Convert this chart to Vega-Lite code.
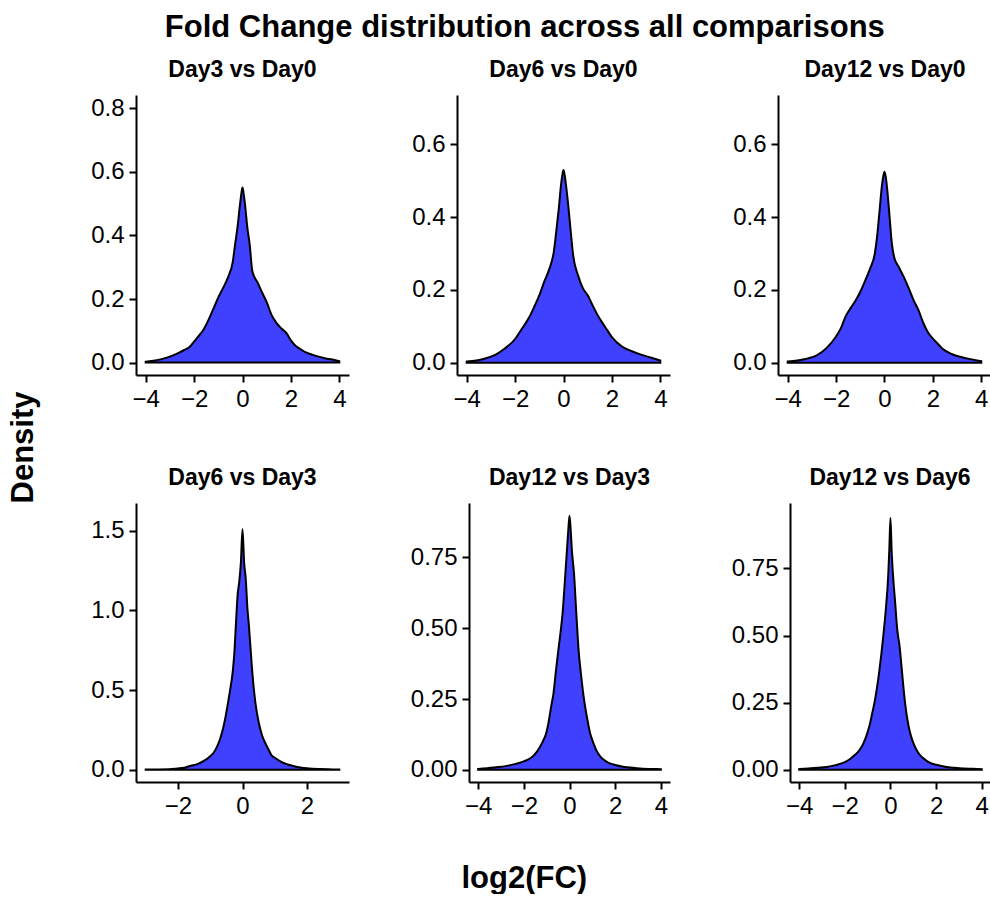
{
  "$schema": "https://vega.github.io/schema/vega-lite/v6.json",
  "background": "white",
  "padding": {"left": 7, "top": 12, "right": 0, "bottom": 0},
  "title": {"text": "Fold Change distribution across all comparisons", "font": "Liberation Sans", "fontSize": 31, "fontWeight": "bold", "color": "black", "anchor": "middle", "offset": 15, "dx": 26},
  "datasets": {
    "d": [
      {"c": "Day3 vs Day0", "x": -4.0, "y": 0.003}, {"c": "Day3 vs Day0", "x": -3.6, "y": 0.007}, {"c": "Day3 vs Day0", "x": -3.2, "y": 0.014}, {"c": "Day3 vs Day0", "x": -2.8, "y": 0.025}, {"c": "Day3 vs Day0", "x": -2.6, "y": 0.032}, {"c": "Day3 vs Day0", "x": -2.4, "y": 0.040}, {"c": "Day3 vs Day0", "x": -2.2, "y": 0.048}, {"c": "Day3 vs Day0", "x": -2.0, "y": 0.066}, {"c": "Day3 vs Day0", "x": -1.8, "y": 0.085}, {"c": "Day3 vs Day0", "x": -1.6, "y": 0.105}, {"c": "Day3 vs Day0", "x": -1.4, "y": 0.135}, {"c": "Day3 vs Day0", "x": -1.2, "y": 0.170}, {"c": "Day3 vs Day0", "x": -1.0, "y": 0.205}, {"c": "Day3 vs Day0", "x": -0.8, "y": 0.235}, {"c": "Day3 vs Day0", "x": -0.6, "y": 0.268}, {"c": "Day3 vs Day0", "x": -0.4, "y": 0.318}, {"c": "Day3 vs Day0", "x": -0.3, "y": 0.375}, {"c": "Day3 vs Day0", "x": -0.2, "y": 0.43}, {"c": "Day3 vs Day0", "x": -0.1, "y": 0.50}, {"c": "Day3 vs Day0", "x": -0.05, "y": 0.53}, {"c": "Day3 vs Day0", "x": 0.0, "y": 0.551}, {"c": "Day3 vs Day0", "x": 0.05, "y": 0.53}, {"c": "Day3 vs Day0", "x": 0.1, "y": 0.50}, {"c": "Day3 vs Day0", "x": 0.2, "y": 0.425}, {"c": "Day3 vs Day0", "x": 0.3, "y": 0.37}, {"c": "Day3 vs Day0", "x": 0.4, "y": 0.29}, {"c": "Day3 vs Day0", "x": 0.5, "y": 0.268}, {"c": "Day3 vs Day0", "x": 0.6, "y": 0.255}, {"c": "Day3 vs Day0", "x": 0.8, "y": 0.222}, {"c": "Day3 vs Day0", "x": 1.0, "y": 0.19}, {"c": "Day3 vs Day0", "x": 1.2, "y": 0.15}, {"c": "Day3 vs Day0", "x": 1.4, "y": 0.125}, {"c": "Day3 vs Day0", "x": 1.6, "y": 0.108}, {"c": "Day3 vs Day0", "x": 1.8, "y": 0.094}, {"c": "Day3 vs Day0", "x": 2.0, "y": 0.07}, {"c": "Day3 vs Day0", "x": 2.2, "y": 0.052}, {"c": "Day3 vs Day0", "x": 2.4, "y": 0.042}, {"c": "Day3 vs Day0", "x": 2.6, "y": 0.033}, {"c": "Day3 vs Day0", "x": 2.8, "y": 0.027}, {"c": "Day3 vs Day0", "x": 3.0, "y": 0.022}, {"c": "Day3 vs Day0", "x": 3.4, "y": 0.014}, {"c": "Day3 vs Day0", "x": 3.8, "y": 0.008}, {"c": "Day3 vs Day0", "x": 4.0, "y": 0.004},

      {"c": "Day6 vs Day0", "x": -4.0, "y": 0.003}, {"c": "Day6 vs Day0", "x": -3.6, "y": 0.006}, {"c": "Day6 vs Day0", "x": -3.2, "y": 0.012}, {"c": "Day6 vs Day0", "x": -2.8, "y": 0.022}, {"c": "Day6 vs Day0", "x": -2.4, "y": 0.040}, {"c": "Day6 vs Day0", "x": -2.0, "y": 0.065}, {"c": "Day6 vs Day0", "x": -1.8, "y": 0.085}, {"c": "Day6 vs Day0", "x": -1.6, "y": 0.105}, {"c": "Day6 vs Day0", "x": -1.4, "y": 0.127}, {"c": "Day6 vs Day0", "x": -1.2, "y": 0.155}, {"c": "Day6 vs Day0", "x": -1.0, "y": 0.185}, {"c": "Day6 vs Day0", "x": -0.8, "y": 0.222}, {"c": "Day6 vs Day0", "x": -0.6, "y": 0.255}, {"c": "Day6 vs Day0", "x": -0.4, "y": 0.305}, {"c": "Day6 vs Day0", "x": -0.3, "y": 0.36}, {"c": "Day6 vs Day0", "x": -0.2, "y": 0.42}, {"c": "Day6 vs Day0", "x": -0.1, "y": 0.49}, {"c": "Day6 vs Day0", "x": -0.05, "y": 0.515}, {"c": "Day6 vs Day0", "x": 0.0, "y": 0.53}, {"c": "Day6 vs Day0", "x": 0.05, "y": 0.515}, {"c": "Day6 vs Day0", "x": 0.1, "y": 0.49}, {"c": "Day6 vs Day0", "x": 0.2, "y": 0.43}, {"c": "Day6 vs Day0", "x": 0.3, "y": 0.36}, {"c": "Day6 vs Day0", "x": 0.4, "y": 0.295}, {"c": "Day6 vs Day0", "x": 0.6, "y": 0.24}, {"c": "Day6 vs Day0", "x": 0.8, "y": 0.205}, {"c": "Day6 vs Day0", "x": 1.0, "y": 0.185}, {"c": "Day6 vs Day0", "x": 1.2, "y": 0.158}, {"c": "Day6 vs Day0", "x": 1.4, "y": 0.132}, {"c": "Day6 vs Day0", "x": 1.6, "y": 0.110}, {"c": "Day6 vs Day0", "x": 1.8, "y": 0.090}, {"c": "Day6 vs Day0", "x": 2.0, "y": 0.070}, {"c": "Day6 vs Day0", "x": 2.4, "y": 0.045}, {"c": "Day6 vs Day0", "x": 2.8, "y": 0.032}, {"c": "Day6 vs Day0", "x": 3.2, "y": 0.022}, {"c": "Day6 vs Day0", "x": 3.6, "y": 0.014}, {"c": "Day6 vs Day0", "x": 4.0, "y": 0.006},

      {"c": "Day12 vs Day0", "x": -4.0, "y": 0.003}, {"c": "Day12 vs Day0", "x": -3.6, "y": 0.006}, {"c": "Day12 vs Day0", "x": -3.2, "y": 0.011}, {"c": "Day12 vs Day0", "x": -2.8, "y": 0.020}, {"c": "Day12 vs Day0", "x": -2.4, "y": 0.040}, {"c": "Day12 vs Day0", "x": -2.0, "y": 0.072}, {"c": "Day12 vs Day0", "x": -1.8, "y": 0.095}, {"c": "Day12 vs Day0", "x": -1.6, "y": 0.128}, {"c": "Day12 vs Day0", "x": -1.4, "y": 0.150}, {"c": "Day12 vs Day0", "x": -1.2, "y": 0.170}, {"c": "Day12 vs Day0", "x": -1.0, "y": 0.195}, {"c": "Day12 vs Day0", "x": -0.8, "y": 0.225}, {"c": "Day12 vs Day0", "x": -0.6, "y": 0.258}, {"c": "Day12 vs Day0", "x": -0.4, "y": 0.300}, {"c": "Day12 vs Day0", "x": -0.3, "y": 0.35}, {"c": "Day12 vs Day0", "x": -0.2, "y": 0.42}, {"c": "Day12 vs Day0", "x": -0.1, "y": 0.49}, {"c": "Day12 vs Day0", "x": -0.05, "y": 0.512}, {"c": "Day12 vs Day0", "x": 0.0, "y": 0.525}, {"c": "Day12 vs Day0", "x": 0.05, "y": 0.512}, {"c": "Day12 vs Day0", "x": 0.1, "y": 0.485}, {"c": "Day12 vs Day0", "x": 0.2, "y": 0.41}, {"c": "Day12 vs Day0", "x": 0.3, "y": 0.33}, {"c": "Day12 vs Day0", "x": 0.4, "y": 0.29}, {"c": "Day12 vs Day0", "x": 0.6, "y": 0.262}, {"c": "Day12 vs Day0", "x": 0.8, "y": 0.235}, {"c": "Day12 vs Day0", "x": 1.0, "y": 0.205}, {"c": "Day12 vs Day0", "x": 1.2, "y": 0.172}, {"c": "Day12 vs Day0", "x": 1.4, "y": 0.145}, {"c": "Day12 vs Day0", "x": 1.6, "y": 0.110}, {"c": "Day12 vs Day0", "x": 1.8, "y": 0.083}, {"c": "Day12 vs Day0", "x": 2.0, "y": 0.066}, {"c": "Day12 vs Day0", "x": 2.2, "y": 0.052}, {"c": "Day12 vs Day0", "x": 2.4, "y": 0.038}, {"c": "Day12 vs Day0", "x": 2.8, "y": 0.023}, {"c": "Day12 vs Day0", "x": 3.2, "y": 0.015}, {"c": "Day12 vs Day0", "x": 3.6, "y": 0.009}, {"c": "Day12 vs Day0", "x": 4.0, "y": 0.004},

      {"c": "Day6 vs Day3", "x": -3.0, "y": 0.001}, {"c": "Day6 vs Day3", "x": -2.6, "y": 0.002}, {"c": "Day6 vs Day3", "x": -2.2, "y": 0.005}, {"c": "Day6 vs Day3", "x": -2.0, "y": 0.008}, {"c": "Day6 vs Day3", "x": -1.8, "y": 0.013}, {"c": "Day6 vs Day3", "x": -1.6, "y": 0.025}, {"c": "Day6 vs Day3", "x": -1.4, "y": 0.035}, {"c": "Day6 vs Day3", "x": -1.2, "y": 0.055}, {"c": "Day6 vs Day3", "x": -1.0, "y": 0.085}, {"c": "Day6 vs Day3", "x": -0.9, "y": 0.105}, {"c": "Day6 vs Day3", "x": -0.8, "y": 0.14}, {"c": "Day6 vs Day3", "x": -0.7, "y": 0.19}, {"c": "Day6 vs Day3", "x": -0.6, "y": 0.26}, {"c": "Day6 vs Day3", "x": -0.5, "y": 0.36}, {"c": "Day6 vs Day3", "x": -0.4, "y": 0.48}, {"c": "Day6 vs Day3", "x": -0.3, "y": 0.62}, {"c": "Day6 vs Day3", "x": -0.25, "y": 0.74}, {"c": "Day6 vs Day3", "x": -0.2, "y": 0.93}, {"c": "Day6 vs Day3", "x": -0.15, "y": 1.10}, {"c": "Day6 vs Day3", "x": -0.1, "y": 1.18}, {"c": "Day6 vs Day3", "x": -0.05, "y": 1.30}, {"c": "Day6 vs Day3", "x": 0.0, "y": 1.51}, {"c": "Day6 vs Day3", "x": 0.05, "y": 1.30}, {"c": "Day6 vs Day3", "x": 0.1, "y": 1.20}, {"c": "Day6 vs Day3", "x": 0.15, "y": 1.02}, {"c": "Day6 vs Day3", "x": 0.2, "y": 0.90}, {"c": "Day6 vs Day3", "x": 0.25, "y": 0.76}, {"c": "Day6 vs Day3", "x": 0.3, "y": 0.62}, {"c": "Day6 vs Day3", "x": 0.4, "y": 0.42}, {"c": "Day6 vs Day3", "x": 0.5, "y": 0.30}, {"c": "Day6 vs Day3", "x": 0.6, "y": 0.22}, {"c": "Day6 vs Day3", "x": 0.7, "y": 0.17}, {"c": "Day6 vs Day3", "x": 0.8, "y": 0.13}, {"c": "Day6 vs Day3", "x": 0.9, "y": 0.09}, {"c": "Day6 vs Day3", "x": 1.0, "y": 0.075}, {"c": "Day6 vs Day3", "x": 1.2, "y": 0.05}, {"c": "Day6 vs Day3", "x": 1.4, "y": 0.033}, {"c": "Day6 vs Day3", "x": 1.6, "y": 0.022}, {"c": "Day6 vs Day3", "x": 1.8, "y": 0.014}, {"c": "Day6 vs Day3", "x": 2.0, "y": 0.009}, {"c": "Day6 vs Day3", "x": 2.4, "y": 0.004}, {"c": "Day6 vs Day3", "x": 2.8, "y": 0.002}, {"c": "Day6 vs Day3", "x": 3.0, "y": 0.001},

      {"c": "Day12 vs Day3", "x": -4.0, "y": 0.003}, {"c": "Day12 vs Day3", "x": -3.6, "y": 0.006}, {"c": "Day12 vs Day3", "x": -3.2, "y": 0.009}, {"c": "Day12 vs Day3", "x": -2.8, "y": 0.013}, {"c": "Day12 vs Day3", "x": -2.4, "y": 0.020}, {"c": "Day12 vs Day3", "x": -2.0, "y": 0.030}, {"c": "Day12 vs Day3", "x": -1.8, "y": 0.037}, {"c": "Day12 vs Day3", "x": -1.6, "y": 0.048}, {"c": "Day12 vs Day3", "x": -1.4, "y": 0.067}, {"c": "Day12 vs Day3", "x": -1.2, "y": 0.095}, {"c": "Day12 vs Day3", "x": -1.0, "y": 0.135}, {"c": "Day12 vs Day3", "x": -0.9, "y": 0.175}, {"c": "Day12 vs Day3", "x": -0.8, "y": 0.225}, {"c": "Day12 vs Day3", "x": -0.7, "y": 0.27}, {"c": "Day12 vs Day3", "x": -0.6, "y": 0.345}, {"c": "Day12 vs Day3", "x": -0.5, "y": 0.415}, {"c": "Day12 vs Day3", "x": -0.4, "y": 0.48}, {"c": "Day12 vs Day3", "x": -0.3, "y": 0.555}, {"c": "Day12 vs Day3", "x": -0.2, "y": 0.67}, {"c": "Day12 vs Day3", "x": -0.1, "y": 0.79}, {"c": "Day12 vs Day3", "x": -0.05, "y": 0.85}, {"c": "Day12 vs Day3", "x": 0.0, "y": 0.897}, {"c": "Day12 vs Day3", "x": 0.05, "y": 0.85}, {"c": "Day12 vs Day3", "x": 0.1, "y": 0.78}, {"c": "Day12 vs Day3", "x": 0.2, "y": 0.69}, {"c": "Day12 vs Day3", "x": 0.3, "y": 0.55}, {"c": "Day12 vs Day3", "x": 0.4, "y": 0.42}, {"c": "Day12 vs Day3", "x": 0.5, "y": 0.34}, {"c": "Day12 vs Day3", "x": 0.6, "y": 0.27}, {"c": "Day12 vs Day3", "x": 0.7, "y": 0.215}, {"c": "Day12 vs Day3", "x": 0.8, "y": 0.17}, {"c": "Day12 vs Day3", "x": 0.9, "y": 0.13}, {"c": "Day12 vs Day3", "x": 1.0, "y": 0.105}, {"c": "Day12 vs Day3", "x": 1.2, "y": 0.065}, {"c": "Day12 vs Day3", "x": 1.4, "y": 0.042}, {"c": "Day12 vs Day3", "x": 1.6, "y": 0.030}, {"c": "Day12 vs Day3", "x": 1.8, "y": 0.022}, {"c": "Day12 vs Day3", "x": 2.0, "y": 0.017}, {"c": "Day12 vs Day3", "x": 2.4, "y": 0.010}, {"c": "Day12 vs Day3", "x": 2.8, "y": 0.007}, {"c": "Day12 vs Day3", "x": 3.2, "y": 0.004}, {"c": "Day12 vs Day3", "x": 3.6, "y": 0.003}, {"c": "Day12 vs Day3", "x": 4.0, "y": 0.002},

      {"c": "Day12 vs Day6", "x": -4.0, "y": 0.002}, {"c": "Day12 vs Day6", "x": -3.6, "y": 0.004}, {"c": "Day12 vs Day6", "x": -3.2, "y": 0.007}, {"c": "Day12 vs Day6", "x": -2.8, "y": 0.010}, {"c": "Day12 vs Day6", "x": -2.4, "y": 0.017}, {"c": "Day12 vs Day6", "x": -2.0, "y": 0.028}, {"c": "Day12 vs Day6", "x": -1.8, "y": 0.038}, {"c": "Day12 vs Day6", "x": -1.6, "y": 0.052}, {"c": "Day12 vs Day6", "x": -1.4, "y": 0.068}, {"c": "Day12 vs Day6", "x": -1.2, "y": 0.095}, {"c": "Day12 vs Day6", "x": -1.0, "y": 0.14}, {"c": "Day12 vs Day6", "x": -0.9, "y": 0.17}, {"c": "Day12 vs Day6", "x": -0.8, "y": 0.21}, {"c": "Day12 vs Day6", "x": -0.7, "y": 0.25}, {"c": "Day12 vs Day6", "x": -0.6, "y": 0.30}, {"c": "Day12 vs Day6", "x": -0.5, "y": 0.36}, {"c": "Day12 vs Day6", "x": -0.4, "y": 0.43}, {"c": "Day12 vs Day6", "x": -0.3, "y": 0.51}, {"c": "Day12 vs Day6", "x": -0.2, "y": 0.60}, {"c": "Day12 vs Day6", "x": -0.1, "y": 0.72}, {"c": "Day12 vs Day6", "x": -0.05, "y": 0.82}, {"c": "Day12 vs Day6", "x": 0.0, "y": 0.938}, {"c": "Day12 vs Day6", "x": 0.05, "y": 0.82}, {"c": "Day12 vs Day6", "x": 0.1, "y": 0.74}, {"c": "Day12 vs Day6", "x": 0.2, "y": 0.63}, {"c": "Day12 vs Day6", "x": 0.3, "y": 0.52}, {"c": "Day12 vs Day6", "x": 0.4, "y": 0.46}, {"c": "Day12 vs Day6", "x": 0.5, "y": 0.37}, {"c": "Day12 vs Day6", "x": 0.6, "y": 0.28}, {"c": "Day12 vs Day6", "x": 0.7, "y": 0.21}, {"c": "Day12 vs Day6", "x": 0.8, "y": 0.16}, {"c": "Day12 vs Day6", "x": 0.9, "y": 0.125}, {"c": "Day12 vs Day6", "x": 1.0, "y": 0.10}, {"c": "Day12 vs Day6", "x": 1.2, "y": 0.065}, {"c": "Day12 vs Day6", "x": 1.4, "y": 0.045}, {"c": "Day12 vs Day6", "x": 1.6, "y": 0.032}, {"c": "Day12 vs Day6", "x": 1.8, "y": 0.023}, {"c": "Day12 vs Day6", "x": 2.0, "y": 0.018}, {"c": "Day12 vs Day6", "x": 2.4, "y": 0.011}, {"c": "Day12 vs Day6", "x": 2.8, "y": 0.007}, {"c": "Day12 vs Day6", "x": 3.2, "y": 0.004}, {"c": "Day12 vs Day6", "x": 3.6, "y": 0.003}, {"c": "Day12 vs Day6", "x": 4.0, "y": 0.002}
    ]
  },
  "vconcat": [
    {
      "title": {"text": "Density", "orient": "left", "font": "Liberation Sans", "fontSize": 31, "fontWeight": "bold", "color": "black", "anchor": "middle", "offset": 51, "dx": 29},
      "vconcat": [
        {
          "title": {"text": "log2(FC)", "orient": "bottom", "font": "Liberation Sans", "fontSize": 31, "fontWeight": "bold", "color": "black", "anchor": "middle", "offset": 46, "dx": -16},
          "spacing": 56,
          "vconcat": [
            {
              "bounds": "flush",
              "spacing": 108,
              "hconcat": [
                {
                  "width": 213, "height": 280,
                  "data": {"name": "d"},
                  "title": {"text": "Day3 vs Day0", "font": "Liberation Sans", "fontSize": 23, "fontWeight": "bold", "color": "black", "offset": 13, "anchor": "middle"},
                  "transform": [{"filter": "datum.c === 'Day3 vs Day0'"}],
                  "mark": {"type": "area", "color": "#4040ff", "stroke": "black", "strokeWidth": 2, "interpolate": "monotone", "opacity": 1},
                  "encoding": {
                    "x": {"field": "x", "type": "quantitative", "scale": {"domain": [-4.4, 4.4], "nice": false, "zero": false}, "axis": {"values": [-4, -2, 0, 2, 4], "format": "d", "title": null}},
                    "y": {"field": "y", "type": "quantitative", "scale": {"domain": [-0.039, 0.842], "nice": false, "zero": false}, "axis": {"values": [0, 0.2, 0.4, 0.6, 0.8], "format": ".1f", "title": null}},
                    "y2": {"datum": 0}
                  }
                },
                {
                  "width": 213, "height": 280,
                  "data": {"name": "d"},
                  "title": {"text": "Day6 vs Day0", "font": "Liberation Sans", "fontSize": 23, "fontWeight": "bold", "color": "black", "offset": 13, "anchor": "middle"},
                  "transform": [{"filter": "datum.c === 'Day6 vs Day0'"}],
                  "mark": {"type": "area", "color": "#4040ff", "stroke": "black", "strokeWidth": 2, "interpolate": "monotone", "opacity": 1},
                  "encoding": {
                    "x": {"field": "x", "type": "quantitative", "scale": {"domain": [-4.4, 4.4], "nice": false, "zero": false}, "axis": {"values": [-4, -2, 0, 2, 4], "format": "d", "title": null}},
                    "y": {"field": "y", "type": "quantitative", "scale": {"domain": [-0.034, 0.736], "nice": false, "zero": false}, "axis": {"values": [0, 0.2, 0.4, 0.6], "format": ".1f", "title": null}},
                    "y2": {"datum": 0}
                  }
                },
                {
                  "width": 212, "height": 280,
                  "data": {"name": "d"},
                  "title": {"text": "Day12 vs Day0", "font": "Liberation Sans", "fontSize": 23, "fontWeight": "bold", "color": "black", "offset": 13, "anchor": "middle", "dx": 1},
                  "transform": [{"filter": "datum.c === 'Day12 vs Day0'"}],
                  "mark": {"type": "area", "color": "#4040ff", "stroke": "black", "strokeWidth": 2, "interpolate": "monotone", "opacity": 1},
                  "encoding": {
                    "x": {"field": "x", "type": "quantitative", "scale": {"domain": [-4.4, 4.36], "nice": false, "zero": false}, "axis": {"values": [-4, -2, 0, 2, 4], "format": "d", "title": null}},
                    "y": {"field": "y", "type": "quantitative", "scale": {"domain": [-0.034, 0.736], "nice": false, "zero": false}, "axis": {"values": [0, 0.2, 0.4, 0.6], "format": ".1f", "title": null}},
                    "y2": {"datum": 0}
                  }
                }
              ]
            },
            {
              "bounds": "flush",
              "spacing": 120,
              "hconcat": [
                {
                  "width": 213, "height": 279,
                  "data": {"name": "d"},
                  "title": {"text": "Day6 vs Day3", "font": "Liberation Sans", "fontSize": 23, "fontWeight": "bold", "color": "black", "offset": 13, "anchor": "middle"},
                  "transform": [{"filter": "datum.c === 'Day6 vs Day3'"}],
                  "mark": {"type": "area", "color": "#4040ff", "stroke": "black", "strokeWidth": 2, "interpolate": "monotone", "opacity": 1},
                  "encoding": {
                    "x": {"field": "x", "type": "quantitative", "scale": {"domain": [-3.3, 3.3], "nice": false, "zero": false}, "axis": {"values": [-2, 0, 2], "format": "d", "title": null}},
                    "y": {"field": "y", "type": "quantitative", "scale": {"domain": [-0.077, 1.674], "nice": false, "zero": false}, "axis": {"values": [0, 0.5, 1, 1.5], "format": ".1f", "title": null}},
                    "y2": {"datum": 0}
                  }
                },
                {
                  "width": 201, "height": 279,
                  "data": {"name": "d"},
                  "title": {"text": "Day12 vs Day3", "font": "Liberation Sans", "fontSize": 23, "fontWeight": "bold", "color": "black", "offset": 13, "anchor": "middle"},
                  "transform": [{"filter": "datum.c === 'Day12 vs Day3'"}],
                  "mark": {"type": "area", "color": "#4040ff", "stroke": "black", "strokeWidth": 2, "interpolate": "monotone", "opacity": 1},
                  "encoding": {
                    "x": {"field": "x", "type": "quantitative", "scale": {"domain": [-4.4, 4.4], "nice": false, "zero": false}, "axis": {"values": [-4, -2, 0, 2, 4], "format": "d", "title": null}},
                    "y": {"field": "y", "type": "quantitative", "scale": {"domain": [-0.043, 0.942], "nice": false, "zero": false}, "axis": {"values": [0, 0.25, 0.5, 0.75], "format": ".2f", "title": null}},
                    "y2": {"datum": 0}
                  }
                },
                {
                  "width": 200, "height": 279,
                  "data": {"name": "d"},
                  "title": {"text": "Day12 vs Day6", "font": "Liberation Sans", "fontSize": 23, "fontWeight": "bold", "color": "black", "offset": 13, "anchor": "middle"},
                  "transform": [{"filter": "datum.c === 'Day12 vs Day6'"}],
                  "mark": {"type": "area", "color": "#4040ff", "stroke": "black", "strokeWidth": 2, "interpolate": "monotone", "opacity": 1},
                  "encoding": {
                    "x": {"field": "x", "type": "quantitative", "scale": {"domain": [-4.4, 4.36], "nice": false, "zero": false}, "axis": {"values": [-4, -2, 0, 2, 4], "format": "d", "title": null}},
                    "y": {"field": "y", "type": "quantitative", "scale": {"domain": [-0.046, 0.994], "nice": false, "zero": false}, "axis": {"values": [0, 0.25, 0.5, 0.75], "format": ".2f", "title": null}},
                    "y2": {"datum": 0}
                  }
                }
              ]
            }
          ]
        }
      ]
    }
  ],
  "config": {
    "font": "Liberation Sans",
    "view": {"stroke": null},
    "axis": {"grid": false, "domainColor": "black", "domainWidth": 2, "tickColor": "black", "tickWidth": 2, "tickSize": 7, "labelFont": "Liberation Sans", "labelFontSize": 24, "labelColor": "black", "labelPadding": 5, "labelFlush": false, "labelOverlap": false}
  }
}
